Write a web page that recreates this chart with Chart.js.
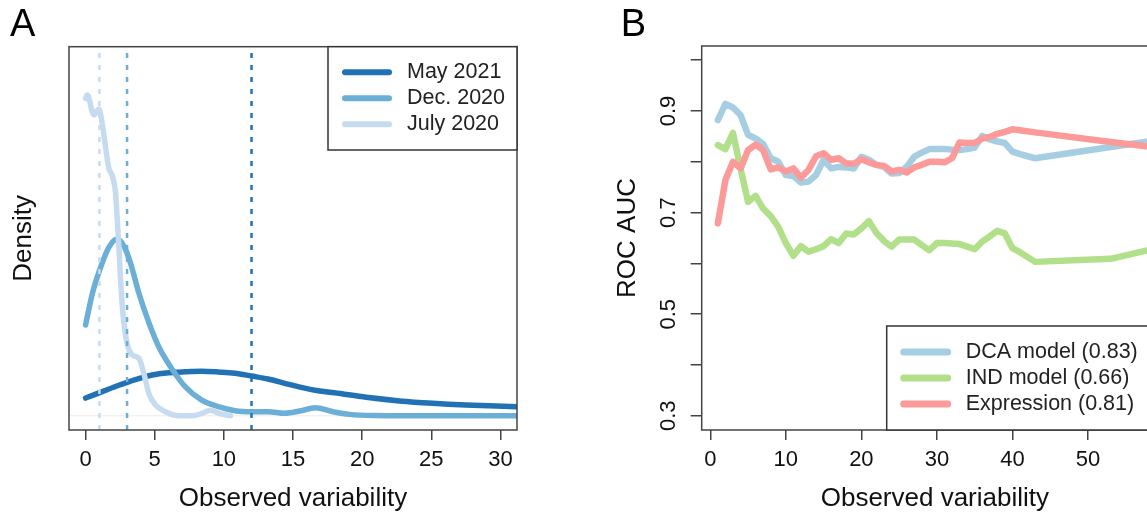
<!DOCTYPE html>
<html>
<head>
<meta charset="utf-8">
<script src="https://cdn.jsdelivr.net/npm/chart.js@4.4.1/dist/chart.umd.min.js"></script>
<style>
  html, body { margin: 0; padding: 0; background: #fff; overflow: hidden; width: 1147px; height: 515px; }
  #panelA { position: absolute; left: 0; top: 0; }
  #panelB { position: absolute; left: 580px; top: 0; }
</style>
</head>
<body>
<canvas id="panelA" width="580" height="515"></canvas>
<canvas id="panelB" width="640" height="515"></canvas>
<script>
// --- Panel A data: density curves of observed variability ---
const densityTicks = [0, 5, 10, 15, 20, 25, 30];
const mayX = [0, 1.2, 2.4, 3.6, 4.8, 6, 7.2, 8.4, 9.6, 10.8, 12, 13.2, 14.4, 15.6, 16.8, 18, 20.3, 22.7, 25.1, 27.5, 31.2, 32];
const mayY = [0.025, 0.034, 0.043, 0.051, 0.0575, 0.0607, 0.062, 0.0627, 0.0617, 0.06, 0.056, 0.0518, 0.0458, 0.040, 0.0354, 0.0325, 0.026, 0.021, 0.0176, 0.0152, 0.0128, 0.0122];
const decX = [0, 0.5, 1.1, 1.7, 2.3, 2.8, 3.25, 3.85, 4.6, 5.3, 6.3, 7.2, 8.4, 9.6, 10.8, 12, 13.2, 14.4, 15.6, 16.6, 17.9, 19.1, 20.8, 24, 28, 32];
const decY = [0.128, 0.173, 0.210, 0.238, 0.249, 0.238, 0.215, 0.173, 0.130, 0.097, 0.0645, 0.041, 0.022, 0.0128, 0.0072, 0.0058, 0.0058, 0.0035, 0.0072, 0.0115, 0.0058, 0.002, 0.0005, 0.0002, 0.0001, 0.0001];
const julyX = [0, 0.12, 0.6, 0.96, 1.2, 1.44, 1.68, 1.92, 2.17, 2.29, 2.41, 2.53, 2.7, 3.0, 3.37, 3.85, 4.21, 4.57, 5.06, 5.78, 6.74, 7.7, 8.43, 9.03, 9.63, 10.48];
const julyY = [0.447, 0.452, 0.424, 0.432, 0.412, 0.379, 0.349, 0.339, 0.313, 0.276, 0.238, 0.191, 0.144, 0.102, 0.0857, 0.081, 0.060, 0.0317, 0.0152, 0.0058, 0.0, 0.0, 0.0035, 0.008, 0.0035, 0.0];
// dotted reference lines (May, Dec., July)
const cutoffs = [12, 3, 1];

// --- Panel B data: ROC AUC against observed variability ---
const varTicks = [0, 10, 20, 30, 40, 50];
const aucTicks = [0.3, 0.4, 0.5, 0.6, 0.7, 0.8, 0.9, 1.0];
const aucLabels = ['0.3', '', '0.5', '', '0.7', '', '0.9', ''];
const obsX = [1, 2, 3, 4, 5, 6, 7, 8, 9, 10, 11, 12, 13, 14, 15, 16, 17, 18, 19, 20, 21, 22, 23, 24, 25, 26, 27, 28, 29, 30, 31, 32, 33, 34, 35, 36, 37, 38, 39, 40, 41, 43, 53, 58];
const dcaY = [0.882, 0.914, 0.907, 0.892, 0.853, 0.846, 0.835, 0.807, 0.800, 0.774, 0.772, 0.759, 0.761, 0.774, 0.804, 0.787, 0.790, 0.789, 0.787, 0.810, 0.804, 0.794, 0.790, 0.777, 0.778, 0.790, 0.810, 0.818, 0.825, 0.825, 0.825, 0.824, 0.823, 0.825, 0.828, 0.851, 0.844, 0.840, 0.837, 0.820, 0.815, 0.807, 0.829, 0.840];
const indY = [0.833, 0.825, 0.857, 0.787, 0.721, 0.733, 0.708, 0.693, 0.672, 0.640, 0.615, 0.634, 0.623, 0.628, 0.634, 0.648, 0.640, 0.659, 0.657, 0.669, 0.683, 0.660, 0.644, 0.633, 0.647, 0.647, 0.647, 0.636, 0.626, 0.640, 0.640, 0.639, 0.638, 0.633, 0.628, 0.643, 0.653, 0.664, 0.659, 0.630, 0.622, 0.603, 0.609, 0.626];
const exprY = [0.679, 0.764, 0.800, 0.787, 0.823, 0.834, 0.823, 0.785, 0.789, 0.781, 0.787, 0.769, 0.784, 0.811, 0.817, 0.804, 0.807, 0.797, 0.796, 0.805, 0.799, 0.794, 0.792, 0.781, 0.784, 0.779, 0.789, 0.794, 0.800, 0.800, 0.799, 0.807, 0.838, 0.837, 0.837, 0.846, 0.849, 0.855, 0.859, 0.864, 0.862, 0.858, 0.839, 0.830];

const FONT = '"Liberation Sans", Arial, Helvetica, sans-serif';
Chart.defaults.font.family = FONT;
Chart.defaults.color = '#111';

const pts = (xs, ys) => xs.map((x, i) => ({ x, y: ys[i] }));

function drawLegend(ctx, items, left, top, right, bottom) {
    ctx.save();
    ctx.fillStyle = '#fff';
    ctx.fillRect(left, top, right - left, bottom - top);
    ctx.strokeStyle = '#333';
    ctx.lineWidth = 1.5;
    ctx.strokeRect(left, top, right - left, bottom - top);
    const gap = 26;
    const y0 = top + (bottom - top - gap * (items.length - 1)) / 2;
    ctx.font = '21.5px ' + FONT;
    ctx.textBaseline = 'middle';
    ctx.textAlign = 'left';
    items.forEach((it, i) => {
        const y = y0 + i * gap;
        ctx.strokeStyle = it.borderColor;
        ctx.lineWidth = it.keyWidth;
        ctx.lineCap = 'round';
        ctx.beginPath();
        ctx.moveTo(left + 17, y);
        ctx.lineTo(left + 61, y);
        ctx.stroke();
        ctx.fillStyle = '#222';
        ctx.fillText(it.label, left + 79, y);
    });
    ctx.restore();
}

function drawFrame(chart, letter, lx, ly) {
    const { ctx, chartArea: a } = chart;
    ctx.save();
    ctx.strokeStyle = '#444';
    ctx.lineWidth = 1.5;
    ctx.strokeRect(a.left, a.top, a.right - a.left, a.bottom - a.top);
    ctx.fillStyle = '#000';
    ctx.font = '38px ' + FONT;
    ctx.textAlign = 'center';
    ctx.textBaseline = 'middle';
    ctx.fillText(letter, lx, ly);
    ctx.restore();
}

const xTicksStyle = { font: { size: 22 }, color: '#111', padding: 7, maxRotation: 0, autoSkip: false };
const xGrid = { drawOnChartArea: false, drawTicks: true, tickLength: 10, color: '#444', lineWidth: 1.5 };
const titleFont = { size: 26 };

// --- Panel A ---
const curve = (label, xs, ys, color, order) => ({
    label, data: pts(xs, ys), borderColor: color, borderWidth: 5.5, keyWidth: 6,
    pointRadius: 0, cubicInterpolationMode: 'monotone', borderCapStyle: 'round',
    borderJoinStyle: 'round', clip: 0, order
});
const cutoffColors = ['#2171b5', '#6baed6', '#c6dbef'];
const cutoffSets = cutoffs.map((v, i) => ({
    data: [{ x: v, y: -0.02 }, { x: v, y: 0.52 }], borderColor: cutoffColors[i],
    borderWidth: 2.5, borderDash: [5, 7], pointRadius: 0, clip: 0, order: 0
}));

new Chart(document.getElementById('panelA'), {
    type: 'line',
    data: {
        datasets: [
            curve('May 2021', mayX, mayY, '#2171b5', 3),
            curve('Dec. 2020', decX, decY, '#6baed6', 2),
            curve('July 2020', julyX, julyY, '#c6dbef', 1),
            ...cutoffSets,
            { data: [{ x: -1.2, y: 0 }, { x: 31.2, y: 0 }], borderColor: '#ececec', borderWidth: 1, pointRadius: 0, clip: 0, order: 5 }
        ]
    },
    options: {
        responsive: false,
        animation: false,
        events: [],
        layout: { padding: { top: 46.7, right: 63, bottom: 0, left: 0 } },
        plugins: { legend: { display: false }, tooltip: { enabled: false } },
        scales: {
            x: {
                type: 'linear', min: -1.2, max: 31.2,
                afterBuildTicks: s => { s.ticks = densityTicks.map(v => ({ value: v })); },
                afterFit: s => { s.height = 85; },
                grid: xGrid, border: { display: false }, ticks: xTicksStyle,
                title: { display: true, text: 'Observed variability', font: titleFont, color: '#111', padding: { top: 0, bottom: 1 } }
            },
            y: {
                type: 'linear', min: -0.02, max: 0.52,
                afterFit: s => { s.width = 69; },
                grid: { display: false }, border: { display: false }, ticks: { display: false },
                title: { display: true, text: 'Density', font: titleFont, color: '#111', padding: { top: 8.4, bottom: 0 } }
            }
        }
    },
    plugins: [{
        id: 'frameA',
        afterDraw(chart) {
            const a = chart.chartArea;
            drawFrame(chart, 'A', 22.7, 25.7);
            const items = chart.data.datasets.filter(d => d.label);
            drawLegend(chart.ctx, items, a.right - 189, a.top, a.right, a.top + 103.3);
        }
    }]
});

// --- Panel B ---
const aucLine = (label, ys, color, order) => ({
    label, data: pts(obsX, ys), borderColor: color, borderWidth: 6.5, keyWidth: 7,
    pointRadius: 0, tension: 0, borderCapStyle: 'round', borderJoinStyle: 'round', clip: 0, order
});

new Chart(document.getElementById('panelB'), {
    type: 'line',
    data: {
        datasets: [
            aucLine('DCA model (0.83)', dcaY, '#a6cee3', 3),
            aucLine('IND model (0.66)', indY, '#b2df8a', 2),
            aucLine('Expression (0.81)', exprY, '#fb9a99', 1)
        ]
    },
    options: {
        responsive: false,
        animation: false,
        events: [],
        layout: { padding: { top: 46, right: 52, bottom: 0, left: 0 } },
        plugins: { legend: { display: false }, tooltip: { enabled: false } },
        scales: {
            x: {
                type: 'linear', min: -1.14, max: 60.6,
                afterBuildTicks: s => { s.ticks = varTicks.map(v => ({ value: v })); },
                afterFit: s => { s.height = 85; },
                grid: xGrid, border: { display: false }, ticks: xTicksStyle,
                title: { display: true, text: 'Observed variability', font: titleFont, color: '#111', padding: { top: 0, bottom: 1 } }
            },
            y: {
                type: 'linear', min: 0.272, max: 1.028,
                afterBuildTicks: s => { s.ticks = aucTicks.map(v => ({ value: v })); },
                afterFit: s => { s.width = 121.7; },
                grid: { drawOnChartArea: false, drawTicks: true, tickLength: 11, color: '#444', lineWidth: 1.5 },
                border: { display: false }, ticks: { display: false },
                title: { display: true, text: 'ROC AUC', font: titleFont, color: '#111', padding: { top: 31.9, bottom: 0 } }
            }
        }
    },
    plugins: [{
        id: 'frameB',
        afterDraw(chart) {
            const { ctx, chartArea: a } = chart;
            const ys = chart.scales.y;
            drawFrame(chart, 'B', 53.3, 25.5);
            // R-style vertical tick labels on the y axis
            ctx.save();
            ctx.font = '22px ' + FONT;
            ctx.fillStyle = '#111';
            ctx.textAlign = 'center';
            ctx.textBaseline = 'middle';
            aucTicks.forEach((v, i) => {
                if (!aucLabels[i]) return;
                ctx.save();
                ctx.translate(a.left - 32.9, ys.getPixelForValue(v));
                ctx.rotate(-Math.PI / 2);
                ctx.fillText(aucLabels[i], 0, 0);
                ctx.restore();
            });
            ctx.restore();
            drawLegend(ctx, chart.data.datasets, a.left + 185, a.bottom - 104, a.right, a.bottom);
        }
    }]
});
</script>
</body>
</html>
